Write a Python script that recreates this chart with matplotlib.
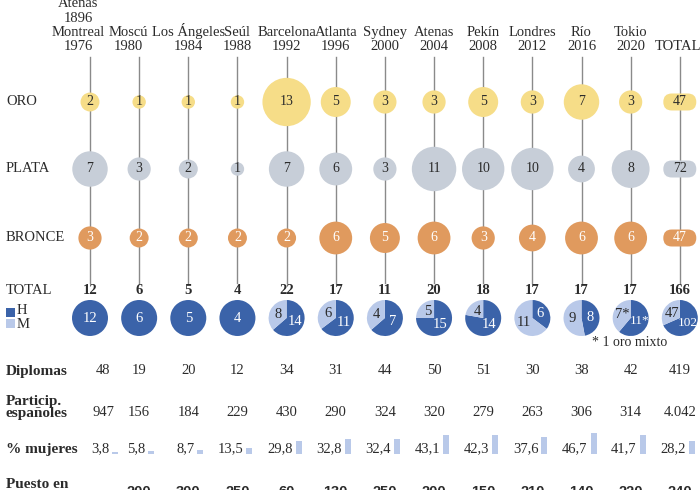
import numpy as np
import matplotlib.pyplot as plt
from matplotlib.patches import Circle, FancyBboxPatch, Rectangle

# Sedes (cabecera de cada columna)
sedes = ["Atenas\n1896\nMontreal\n1976", "Moscú\n1980", "Los Ángeles\n1984", "Seúl\n1988",
         "Barcelona\n1992", "Atlanta\n1996", "Sydney\n2000", "Atenas\n2004", "Pekín\n2008",
         "Londres\n2012", "Río\n2016", "Tokio\n2020", "TOTAL"]

# Medallas por juegos (sin la columna TOTAL)
oro = [2, 1, 1, 1, 13, 5, 3, 3, 5, 3, 7, 3]
plata = [7, 3, 2, 1, 7, 6, 3, 11, 10, 10, 4, 8]
bronce = [3, 2, 2, 2, 2, 6, 5, 6, 3, 4, 6, 6]
total_medallas = [12, 6, 5, 4, 22, 17, 11, 20, 18, 17, 17, 17, 166]

# Reparto hombres / mujeres
hombres = [12, 6, 5, 4, 14, 11, 7, 15, 14, 6, 8, 11, 102]
mujeres = [0, 0, 0, 0, 8, 6, 4, 5, 4, 11, 9, 7, 47]
etiq_h = ["12", "6", "5", "4", "14", "11", "7", "15", "14", "6", "8", "11*", "102"]
etiq_m = ["", "", "", "", "8", "6", "4", "5", "4", "11", "9", "7*", "47"]

# Tabla inferior
diplomas = [48, 19, 20, 12, 34, 31, 44, 50, 51, 30, 38, 42, 419]
participantes = [947, 156, 184, 229, 430, 290, 324, 320, 279, 263, 306, 314, 4042]
pct_mujeres = [3.8, 5.8, 8.7, 13.5, 29.8, 32.8, 32.4, 43.1, 42.3, 37.6, 46.7, 41.7, 28.2]
puesto = [None, 200, 300, 250, 60, 130, 250, 200, 150, 210, 140, 220, 240]

# colores
C_ORO = '#f6dd88'
C_PLATA = '#c7ced8'
C_BRONCE = '#e09a5e'
C_H = '#3b63a9'
C_M = '#b9c9e9'
C_TXT = '#2b2b2b'
C_LINEA = '#8a8a8a'

SERIF = ['Liberation Serif', 'DejaVu Serif']
SANS = ['Liberation Sans', 'DejaVu Sans']

W, H = 700, 490
fig = plt.figure(figsize=(7, 4.9), dpi=100)
ax = fig.add_axes([0, 0, 1, 1])


def y_(v):
    # posiciones medidas desde arriba
    return H - v


X0, DX = 90, 49.15
xs = X0 + DX * np.arange(len(sedes))
# las dos primeras cabeceras van algo a la izquierda de su linea
xs_cab = xs.copy()
xs_cab[0] -= 12
xs_cab[1] -= 11
xs_cab[-1] -= 2
# la primera columna de la tabla inferior esta algo desplazada
xs_tabla = xs.copy()
xs_tabla[0] = xs[0] + 13

Y_ORO, Y_PLATA, Y_BRONCE = 102, 169, 238
Y_TOTAL, Y_PIE = 290, 318
Y_DIP, Y_PART, Y_PCT, Y_PUESTO = 371, 413, 449, 492

# cabeceras
for x, s in zip(xs_cab, sedes):
    ax.text(x, y_(53), s, ha='center', va='bottom', fontsize=10.5,
            family=SERIF, color=C_TXT, linespacing=1.12)

# lineas verticales
for x in xs:
    ax.plot([x, x], [y_(57), y_(283)], color=C_LINEA, lw=1, zorder=1)

# etiquetas de fila
for nombre, yy in [("ORO", Y_ORO), ("PLATA", Y_PLATA), ("BRONCE", Y_BRONCE), ("TOTAL", Y_TOTAL)]:
    ax.text(6, y_(yy), nombre, ha='left', va='center', fontsize=10.5, family=SERIF, color=C_TXT)

# circulos de medallas
filas = [(oro, Y_ORO, C_ORO, C_TXT), (plata, Y_PLATA, C_PLATA, C_TXT), (bronce, Y_BRONCE, C_BRONCE, 'white')]
for valores, yy, color, tcolor in filas:
    for x, v in zip(xs[:-1], valores):
        r = 6.7 * np.sqrt(v)
        ax.add_patch(Circle((x, y_(yy)), r, facecolor=color, edgecolor='none', zorder=2))
        ax.text(x, y_(yy), str(v), ha='center', va='center', fontsize=10,
                family=SERIF, color=tcolor, zorder=3)
    # columna TOTAL en forma de pastilla
    xt = xs[-1]
    ax.add_patch(FancyBboxPatch((xt - 16.5, y_(yy) - 8.5), 33, 17,
                                boxstyle="round,pad=0,rounding_size=8.5",
                                facecolor=color, edgecolor='none', zorder=2))
    ax.text(xt, y_(yy), str(sum(valores)), ha='center', va='center', fontsize=10,
            family=SERIF, color=tcolor, zorder=3)

# totales
for x, t in zip(xs, total_medallas):
    ax.text(x, y_(Y_TOTAL), str(t), ha='center', va='center', fontsize=10.5,
            family=SERIF, fontweight='bold', color=C_TXT)

# leyenda H / M
ax.add_patch(Rectangle((6, y_(317)), 9, 9, facecolor=C_H, edgecolor='none'))
ax.add_patch(Rectangle((6, y_(328)), 9, 9, facecolor=C_M, edgecolor='none'))
ax.text(17, y_(311), "H", ha='left', va='center', fontsize=10.5, family=SERIF, color=C_TXT)
ax.text(17, y_(324), "M", ha='left', va='center', fontsize=10.5, family=SERIF, color=C_TXT)

# tartas hombres / mujeres
R = 18
for x, h, m, lh, lm in zip(xs, hombres, mujeres, etiq_h, etiq_m):
    ax.pie([h, m], colors=[C_H, C_M], startangle=90, counterclock=False,
           center=(x, y_(Y_PIE)), radius=R, frame=True, wedgeprops=dict(linewidth=0))
    fh = h / (h + m)
    fs = 9.5 if len(lh) > 2 else 10.5
    if m == 0:
        ax.text(x, y_(Y_PIE), lh, ha='center', va='center', fontsize=fs, family=SERIF, color='white')
    else:
        ah = np.radians(90 - 180 * fh)
        am = np.radians(90 + 180 * (1 - fh))
        ax.text(x + 0.5 * R * np.cos(ah), y_(Y_PIE) + 0.5 * R * np.sin(ah), lh,
                ha='center', va='center', fontsize=fs, family=SERIF, color='white')
        ax.text(x + 0.5 * R * np.cos(am), y_(Y_PIE) + 0.5 * R * np.sin(am), lm,
                ha='center', va='center', fontsize=10.5, family=SERIF, color=C_TXT)

ax.text(630, y_(343), "* 1 oro mixto", ha='center', va='center', fontsize=10,
        family=SERIF, color=C_TXT)

# tabla inferior
ax.text(6, y_(Y_DIP), "Diplomas", ha='left', va='center', fontsize=11,
        family=SERIF, fontweight='bold', color=C_TXT)
ax.text(6, y_(407), "Particip.\nespañoles", ha='left', va='center', fontsize=11,
        family=SERIF, fontweight='bold', color=C_TXT, linespacing=0.9)
ax.text(6, y_(Y_PCT), "% mujeres", ha='left', va='center', fontsize=11,
        family=SERIF, fontweight='bold', color=C_TXT)
ax.text(6, y_(485), "Puesto en", ha='left', va='center', fontsize=11,
        family=SERIF, fontweight='bold', color=C_TXT)

for x, d, p, pct, pu in zip(xs_tabla, diplomas, participantes, pct_mujeres, puesto):
    ax.text(x, y_(Y_DIP), str(d), ha='center', va='center', fontsize=10.5, family=SERIF, color=C_TXT)
    ax.text(x, y_(Y_PART), f"{p:,}".replace(",", "."), ha='center', va='center',
            fontsize=10.5, family=SERIF, color=C_TXT)
    ax.text(x + 6, y_(Y_PCT), f"{pct:.1f}".replace(".", ","), ha='right', va='center',
            fontsize=10.5, family=SERIF, color=C_TXT)
    ax.add_patch(Rectangle((x + 9, y_(454)), 6, pct * 0.45, facecolor=C_M, edgecolor='none'))
    if pu is not None:
        ax.text(x, y_(Y_PUESTO), str(pu), ha='center', va='center', fontsize=10.5,
                family=SANS, fontweight='bold', color=C_TXT)

ax.set_xlim(0, W)
ax.set_ylim(0, H)
ax.set_aspect('equal')
ax.axis('off')

fig.savefig('out.png', dpi=100)
